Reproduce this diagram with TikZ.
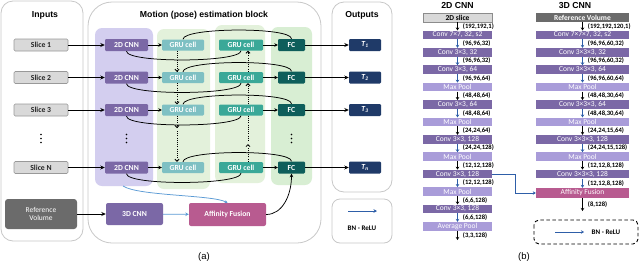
\documentclass[tikz,border=0pt]{standalone}
\usepackage{fontspec}
\setmainfont{Carlito}
\newfontfamily\titlefont{Liberation Sans}
\usetikzlibrary{arrows.meta}
\definecolor{cnnpurple}{HTML}{7B68A6}
\definecolor{poolpurple}{HTML}{A99CD9}
\definecolor{lavreg}{HTML}{D3CEEF}
\definecolor{lgreen}{HTML}{E3F1DB}
\definecolor{lgreenB}{HTML}{D8EED3}
\definecolor{gruA}{HTML}{7EC0C3}
\definecolor{gruB}{HTML}{3AA898}
\definecolor{fcteal}{HTML}{0E5E5B}
\definecolor{navy}{HTML}{1F3A68}
\definecolor{affpink}{HTML}{B85B90}
\definecolor{refgray}{HTML}{6B6B6B}
\definecolor{slicegray}{HTML}{D9D9D9}
\definecolor{panelgray}{HTML}{C8C8C8}
\definecolor{lblue}{HTML}{5B9BD5}
\definecolor{dblue}{HTML}{2E5EA8}
\newcommand{\rsStep}[4]{\draw[barrow,#3] (#1) -- (#2) node[blabel, midway, name=lab#1] {#4};}
\begin{document}
\begin{tikzpicture}[x=1pt,y=-1pt,
  panel/.style={draw=panelgray, line width=0.8pt, fill=white},
  box/.style={rectangle, inner sep=0pt, rounded corners=1.2pt, text=white, font=\bfseries\fontsize{7.7}{8}\selectfont},
  slicebox/.style={box, fill=slicegray, draw=black!40, line width=0.6pt, text=black!85, minimum width=54pt, minimum height=12pt},
  cnnbox/.style={box, fill=cnnpurple, minimum width=43pt, minimum height=12pt},
  gruAbox/.style={box, fill=gruA, minimum width=42pt, minimum height=11pt},
  gruBbox/.style={box, fill=gruB, minimum width=44pt, minimum height=11pt},
  fcbox/.style={box, fill=fcteal, minimum width=27pt, minimum height=12pt},
  outbox/.style={box, fill=navy, minimum width=32pt, minimum height=12pt},
  title/.style={font=\titlefont\bfseries\fontsize{8.7}{10}\selectfont},
  arr/.style={-{Stealth[length=4.5pt,width=4pt]}, line width=0.9pt},
  sarr/.style={-{Stealth[length=3.5pt,width=3.5pt]}, line width=0.8pt},
  curve/.style={line width=0.75pt},
  dotarr/.style={line width=0.8pt, dash pattern=on 1pt off 1.2pt, -{Straight Barb[length=2pt,width=4pt]}},
  dotline/.style={line width=0.8pt, dash pattern=on 1pt off 1.2pt},
  bbox/.style={rectangle, inner sep=0pt, minimum height=8.5pt, text=white, font=\fontsize{7.5}{8}\selectfont},
  bconv/.style={bbox, fill=cnnpurple},
  bpool/.style={bbox, fill=poolpurple},
  wl/.style={minimum width=69pt},
  wr/.style={minimum width=93pt},
  blabel/.style={anchor=west, xshift=5pt, inner sep=0pt, text=black, font=\bfseries\fontsize{6.6}{7}\selectfont},
  barrow/.style={-{Stealth[length=3pt,width=3.5pt]}, line width=0.9pt}
]
\useasboundingbox (0,0) rectangle (640,263);

% ---------- panel (a) frames ----------
\draw[panel, rounded corners=12pt] (1,1) rectangle (83,241);
\draw[panel, rounded corners=24pt] (88,2) rectangle (321,243);
\draw[panel, rounded corners=12pt] (332,2) rectangle (392,192);
\draw[panel, rounded corners=8pt] (332,199) rectangle (392,243);

% column regions
\fill[lavreg, rounded corners=7pt] (95,28) rectangle (153,186);
\fill[lgreen, rounded corners=7pt] (157,29) rectangle (210,189);
\fill[lgreen, rounded corners=7pt] (215,25) rectangle (265,183);
\fill[lgreenB, rounded corners=7pt] (271,27) rectangle (312,185);
\coordinate (lavb) at (123,186);

\node[title] (tin) at (45,15) {Inputs};
\node[title] (tmo) at (204,15) {Motion (pose) estimation block};
\node[title] (tout) at (362,15) {Outputs};

\foreach \r/\y/\sl/\tl in {1/45/1/1, 2/77.5/2/2, 3/110/3/3, 4/167.5/N/n} {
  \node[slicebox] (s\r) at (41,\y) {Slice \sl};
  \node[cnnbox] (c\r) at (126.5,\y) {2D CNN};
  \node[gruAbox] (ga\r) at (183,\y) {GRU cell};
  \node[gruBbox] (gb\r) at (241,\y) {GRU cell};
  \node[fcbox] (fc\r) at (291.5,\y) {FC};
  \node[outbox] (t\r) at (365,\y) {\textit{T}\textsubscript{\textit{\tl}}};
  \draw[arr] (s\r) -- (c\r);
  \draw[sarr] (c\r) -- (ga\r);
  \draw[sarr] (gb\r) -- (fc\r);
  \draw[arr] (fc\r) -- (t\r);
  \draw[curve] (c\r.south) .. controls +(0,12) and +(0,12) .. (gb\r.south);
  \draw[curve] (ga\r.north) .. controls +(0,-12) and +(0,-12) .. (fc\r.north);
}

% vertical dots (drawn as small discs)
\foreach \x in {41,126.5,291.5} {
  \fill (\x,134.5) circle (0.8);
  \fill (\x,138.5) circle (0.8);
  \fill (\x,142.5) circle (0.8);
}

% dotted recurrent connections
\draw[dotarr] ([xshift=-6pt]ga1.south) -- ([xshift=-6pt]ga2.north);
\draw[dotarr] ([xshift=-6pt]ga2.south) -- ([xshift=-6pt]ga3.north);
\coordinate (ga3d) at (177,128);
\coordinate (ga4u) at (177,131);
\draw[dotarr] ([xshift=-6pt]ga3.south) -- (ga3d);
\draw[dotarr] (ga4u) -- ([xshift=-6pt]ga4.north);
\draw[dotarr] ([xshift=7pt]gb2.north) -- ([xshift=7pt]gb1.south);
\draw[dotarr] ([xshift=7pt]gb3.north) -- ([xshift=7pt]gb2.south);
\coordinate (gb3d) at (248,141);
\coordinate (gb4u) at (248,144);
\draw[dotline] ([xshift=7pt]gb3.south) -- (gb3d);
\draw[dotarr] ([xshift=7pt]gb4.north) -- (gb4u);

% bottom row
\node[box, fill=refgray, font=\fontsize{7.5}{8.5}\selectfont, align=center, minimum width=72pt, minimum height=30pt, rounded corners=3pt] (ref) at (41,214) {Reference\\Volume};
\node[cnnbox, minimum width=57pt, minimum height=22pt, rounded corners=2pt] (c3d) at (134.5,214) {3D CNN};
\node[box, fill=affpink, minimum width=77pt, minimum height=23pt, rounded corners=2pt] (aff) at (227.5,214.5) {Affinity Fusion};
\draw[arr] (ref) -- (c3d);
\draw[sarr, lblue] (c3d) -- (aff);
\draw[curve, lblue, -{Stealth[length=3pt,width=3pt]}] (lavb) .. controls +(15,10) and +(-15,-8) .. (aff.north);
\draw[curve, -{Stealth[length=3.5pt,width=3.5pt]}] (aff.east) .. controls +(16,0) and +(0,22) .. (fc4.south);

% legend (a)
\coordinate (bna) at (348,211);
\coordinate (bnb) at (377,211);
\draw[sarr, dblue, line width=0.9pt] (bna) -- (bnb);
\node[font=\bfseries\fontsize{7}{8}\selectfont] (bnt) at (362,228) {BN - ReLU};

\node[font=\titlefont\fontsize{9.5}{10}\selectfont] (la) at (204,257.5) {(a)};
\node[font=\titlefont\fontsize{9.5}{10}\selectfont] (lb) at (524,257.5) {(b)};

% ---------- panel (b) ----------
\node[title] (t2d) at (457.5,5.5) {2D CNN};
\node[title] (t3d) at (575,5.5) {3D CNN};

\node[bbox, wl, fill=slicegray, draw=black!45, text=black, font=\bfseries\fontsize{7.5}{8}\selectfont] (L0) at (457.5,17.5) {2D slice};
\node[bconv, wl] (L1) at (457.5,34.9) {Conv 7×7, 32, s2};
\node[bconv, wl] (L2) at (457.5,52.3) {Conv 3×3, 32};
\node[bconv, wl] (L3) at (457.5,69.7) {Conv 3×3, 64};
\node[bpool, wl] (L4) at (457.5,87.1) {Max Pool};
\node[bconv, wl] (L5) at (457.5,104.5) {Conv 3×3, 64};
\node[bpool, wl] (L6) at (457.5,121.9) {Max Pool};
\node[bconv, wl] (L7) at (457.5,139.3) {Conv 3×3, 128};
\node[bpool, wl] (L8) at (457.5,156.7) {Max Pool};
\node[bconv, wl] (L9) at (457.5,174.1) {Conv 3×3, 128};
\node[bpool, wl] (L10) at (457.5,191.5) {Max Pool};
\node[bconv, wl] (L11) at (457.5,208.9) {Conv 3×3, 128};
\node[bpool, wl] (L12) at (457.5,226.3) {Average Pool};
\coordinate (Lend) at (457.5,240);

\rsStep{L0}{L1}{black}{(192,192,1)}
\rsStep{L1}{L2}{dblue}{(96,96,32)}
\rsStep{L2}{L3}{dblue}{(96,96,32)}
\rsStep{L3}{L4}{dblue}{(96,96,64)}
\rsStep{L4}{L5}{black}{(48,48,64)}
\rsStep{L5}{L6}{dblue}{(48,48,64)}
\rsStep{L6}{L7}{black}{(24,24,64)}
\rsStep{L7}{L8}{dblue}{(24,24,128)}
\rsStep{L8}{L9}{black}{(12,12,128)}
\rsStep{L9}{L10}{dblue}{(12,12,128)}
\rsStep{L10}{L11}{black}{(6,6,128)}
\rsStep{L11}{L12}{dblue}{(6,6,128)}
\rsStep{L12}{Lend}{black}{(3,3,128)}

\node[bbox, wr, fill=refgray, font=\bfseries\fontsize{7.5}{8}\selectfont] (R0) at (582.5,17.5) {Reference Volume};
\node[bconv, wr] (R1) at (582.5,34.9) {Conv 7×7×7, 32, s2};
\node[bconv, wr] (R2) at (582.5,52.3) {Conv 3×3×3, 32};
\node[bconv, wr] (R3) at (582.5,69.7) {Conv 3×3×3, 64};
\node[bpool, wr] (R4) at (582.5,87.1) {Max Pool};
\node[bconv, wr] (R5) at (582.5,104.5) {Conv 3×3×3, 64};
\node[bpool, wr] (R6) at (582.5,121.9) {Max Pool};
\node[bconv, wr] (R7) at (582.5,139.3) {Conv 3×3×3, 128};
\node[bpool, wr] (R8) at (582.5,156.7) {Max Pool};
\node[bconv, wr] (R9) at (582.5,174.1) {Conv 3×3×3, 128};
\node[bbox, wr, fill=affpink, minimum height=10pt] (R10) at (582.5,193) {Affinity Fusion};
\coordinate (Rend) at (582.5,211);

\rsStep{R0}{R1}{black}{(192,192,120,1)}
\rsStep{R1}{R2}{dblue}{(96,96,60,32)}
\rsStep{R2}{R3}{dblue}{(96,96,60,32)}
\rsStep{R3}{R4}{dblue}{(96,96,60,64)}
\rsStep{R4}{R5}{black}{(48,48,30,64)}
\rsStep{R5}{R6}{dblue}{(48,48,30,64)}
\rsStep{R6}{R7}{black}{(24,24,15,64)}
\rsStep{R7}{R8}{dblue}{(24,24,15,128)}
\rsStep{R8}{R9}{black}{(12,12,8,128)}
\rsStep{R9}{R10}{dblue}{(12,12,8,128)}
\rsStep{R10}{Rend}{black}{(8,128)}

\draw[barrow, dblue] (L9.east) -- ++(23.5,0) |- (R10.west);

% legend (b)
\draw[line width=0.9pt, dash pattern=on 3.5pt off 2.5pt, rounded corners=5pt] (534,220) rectangle (638,244);
\coordinate (bl1) at (555,232);
\coordinate (bl2) at (584,232);
\draw[barrow, dblue] (bl1) -- (bl2);
\node[font=\bfseries\fontsize{7}{8}\selectfont] (bnt2) at (606,232) {BN - ReLU};
\end{tikzpicture}
\end{document}
